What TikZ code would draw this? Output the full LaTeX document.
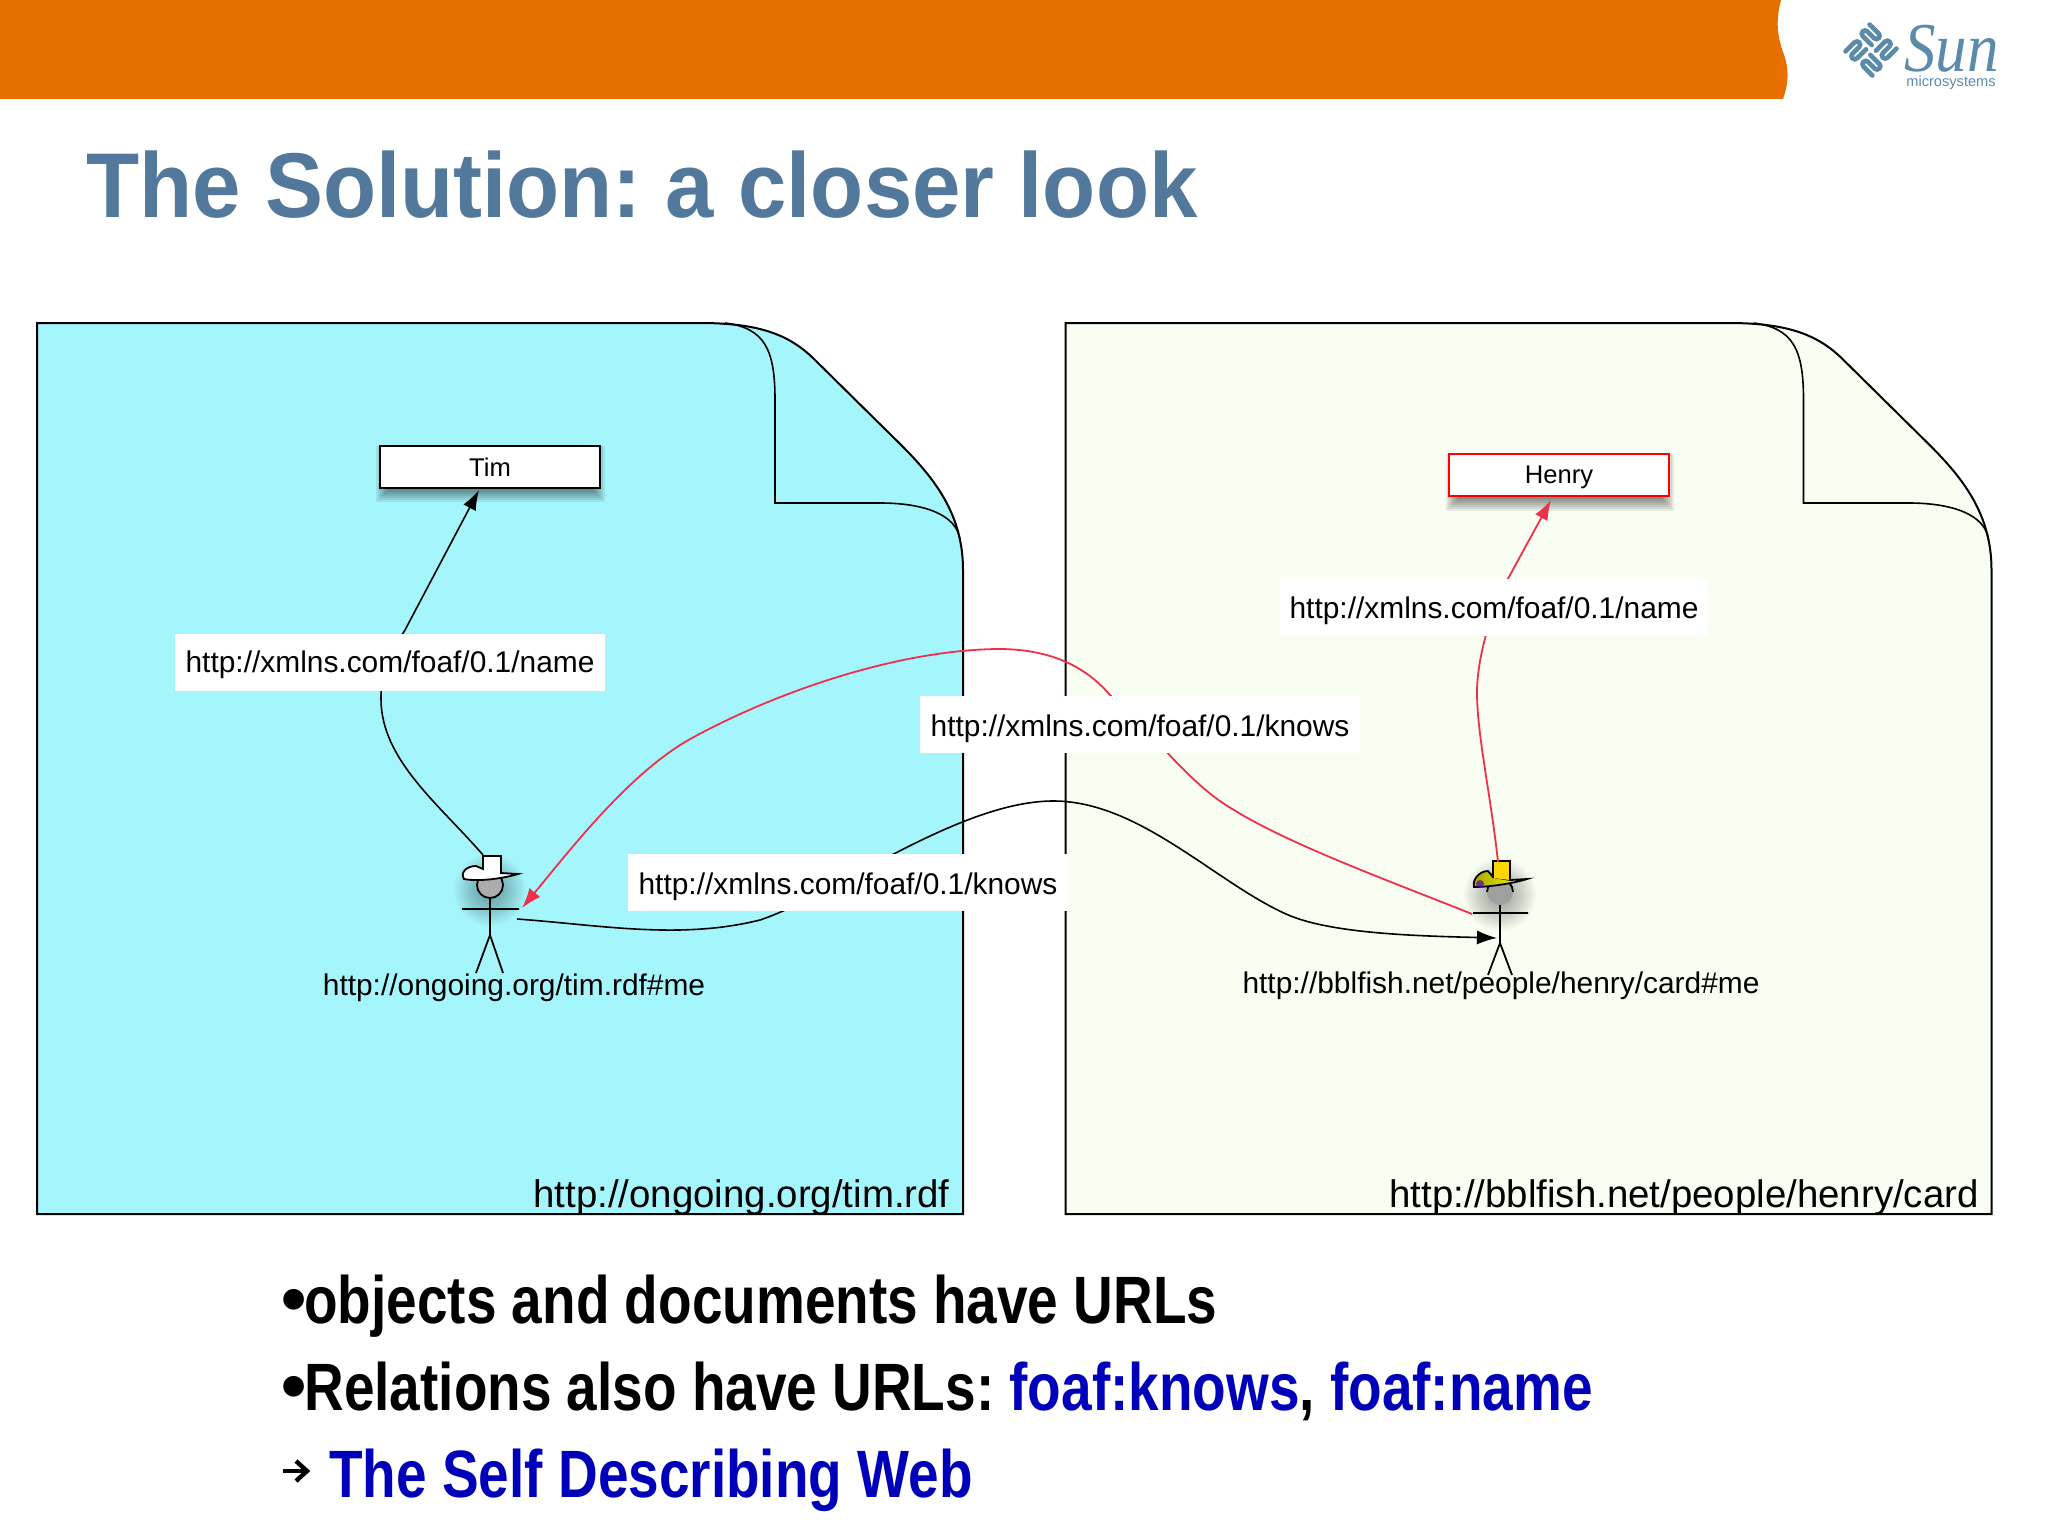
\documentclass[tikz,border=0pt]{standalone}
\usepackage{fontspec}
\setmainfont{Liberation Sans}
\newfontfamily\narrowf[FakeStretch=0.82]{Liberation Sans}
\newfontfamily\titlef[FakeStretch=0.945]{Liberation Sans}
\newfontfamily\serifi[FakeStretch=0.9]{Liberation Serif}
\usetikzlibrary{arrows.meta}
\definecolor{band}{HTML}{E76F00}
\definecolor{titleblue}{HTML}{52799B}
\definecolor{sunblue}{HTML}{5B8BAB}
\definecolor{cyandoc}{HTML}{A5F6FC}
\definecolor{greendoc}{HTML}{F8FEF2}
\definecolor{linkred}{HTML}{F0304A}
\definecolor{bulletblue}{HTML}{0000BB}
\tikzset{
 x=0.5pt,y=-0.5pt,
 doc/.style={draw=black,line width=1pt},
 foldline/.style={draw=black,line width=0.8pt},
 res/.style={draw=black,fill=white,line width=1pt,minimum width=110pt,minimum height=21pt,inner sep=0pt,font=\fontsize{12.8}{14}\selectfont},
 predlabel/.style={fill=white,inner sep=0pt,minimum height=28.5pt,font=\fontsize{14.95}{16}\selectfont},
 idlabel/.style={inner sep=0pt,font=\fontsize{14.95}{16}\selectfont},
 doclabel/.style={inner sep=0pt,anchor=base east,font=\fontsize{19.2}{21}\selectfont},
 blackarc/.style={draw=black,line width=0.8pt,-{Latex[length=10pt,width=7pt]}},
 redarc/.style={draw=linkred,line width=0.9pt,-{Latex[length=10pt,width=7pt]}},
 stick/.style={draw=black,line width=0.9pt},
 bulletline/.style={inner sep=0pt,anchor=base west,font=\narrowf\bfseries\fontsize{33.5}{40}\selectfont},
}
\newcommand{\docshape}[2]{%
 \begin{scope}[shift={(#1,0)}]
 \path[doc,fill=#2] (37,323) -- (700,323) .. controls (760,323) and (790,335) .. (815,360) -- (893,437) .. controls (930,473) and (963,510) .. (963,570) -- (963,1214) -- (37,1214) -- cycle;
 \draw[foldline] (725,323) .. controls (765,328) and (775,350) .. (775,400) -- (775,503) -- (880,503) .. controls (925,503) and (957,515) .. (960,540);
 \end{scope}}
\newcommand{\halo}[2]{%
 \foreach \r in {12,14,...,36}{\fill[black,opacity=.022] (#1,#2) circle[radius=\r];}}
\newcommand{\boxshadow}[4]{%
 \foreach \g in {0,2,...,12}{\fill[black,opacity=.08] (#1-4+\g,#2) rectangle (#3+5-\g,#4+15-\g);}}
\newcommand{\bul}{\makebox[11.5pt][l]{\normalfont\bfseries\fontsize{36}{40}\selectfont •}}
\newcommand{\dropby}[2]{\raisebox{-#1}[\height][\depth]{#2}}
\begin{document}
\frenchspacing
\begin{tikzpicture}
\useasboundingbox (0,0) rectangle (2048,1536);
\fill[white] (0,0) rectangle (2048,1536);
% band
\fill[band] (0,0) -- (1781,0) .. controls (1775,22) and (1778,38) .. (1783,52) .. controls (1790,70) and (1788,85) .. (1783,99) -- (0,99) -- cycle;
% logo
\begin{scope}[shift={(1871,50)},rotate=45]
 \foreach \a in {0,90,180,270}{
 \begin{scope}[rotate=\a]
   \draw[sunblue,line width=2.3pt,line cap=round,rounded corners=1.6pt] (4,-3) -- (4,-19) -- (10.5,-19) -- (10.5,-3) -- (17,-3) -- (17,-19);
 \end{scope}}
\end{scope}
\node[inner sep=0pt,anchor=base west,text depth=0pt,text=sunblue,font=\serifi\itshape\fontsize{35}{35}\selectfont] (sunword) at (1904,72) {Sun};
\node[inner sep=0pt,anchor=base west,text height=5pt,text=sunblue,font=\fontsize{7.3}{8}\selectfont] (micro) at (1906,87) {microsystems};
% title
\node[inner sep=0pt,anchor=base west,text=titleblue,font=\titlef\bfseries\fontsize{46}{50}\selectfont] (title) at (86,217) {The Solution: a closer look};
% documents
\docshape{0}{cyandoc}
\docshape{1028.5}{greendoc}
\node[doclabel] (urlA) at (950,1207) {http://ongoing.org/tim.rdf};
\node[doclabel] (urlB) at (1979,1207) {http://bblfish.net/people/henry/card};
% resources
\boxshadow{380}{446}{600}{487}
\boxshadow{1450}{454}{1669}{496}
\node[res] (tim) at (490,467) {Tim};
\node[res,draw=red] (henry) at (1559,475) {\dropby{1.2pt}{Henry}};
% persons
\halo{490}{890}
\halo{1500}{895}
\begin{scope}[shift={(490,909)}]
 \fill[gray!65] (0,-24) circle[radius=13];
 \draw[stick] (0,-24) circle[radius=13];
 \draw[stick] (0,-11) -- (0,26) (-28,0) -- (29,0) (0,26) -- (-14,64) (0,26) -- (13,64);
 \path[stick,fill=white] (-7,-53) -- (11,-53) -- (11,-36) -- (28,-35) .. controls (15,-31) and (-10,-27) .. (-26,-30) .. controls (-30,-36) and (-24,-43) .. (-14,-43) -- (-7,-40) -- cycle;
\end{scope}
\begin{scope}[shift={(1500,913)}]
 \fill[gray!75] (0,-21) circle[radius=13];
 \draw[stick] (-13,-21) arc[start angle=180,end angle=360,radius=13];
 \draw[stick] (0,-8) -- (0,30) (-27,0) -- (28,0) (0,30) -- (-12,62) (0,30) -- (12,62);
 \path[stick,left color=olive!70!yellow,right color=yellow] (-7,-36) -- (10,-33) -- (27,-34) .. controls (15,-30) and (-10,-26) .. (-26,-26) .. controls (-28,-34) and (-20,-42) .. (-12,-42) -- cycle;
 \fill[violet!60!blue,opacity=.7] (-20,-29) circle[radius=4];
 \path[stick,fill=yellow!75!orange] (-7,-35) -- (-7,-52) -- (10,-52) -- (10,-33);
\end{scope}
\coordinate (timOut) at (517,919);
\coordinate (timIn) at (522,908);
\coordinate (timUp) at (483,855);
\coordinate (timBoxIn) at (479,490);
\coordinate (henOut) at (1472,914);
\coordinate (henIn) at (1497,938);
\coordinate (henUp) at (1498,862);
\coordinate (henBoxIn) at (1551,500);
% connectors
\draw[blackarc] (timUp) .. controls (440,805) and (381,760) .. (381,699) .. controls (381,660) and (390,655) .. (405,630) -- (timBoxIn);
\draw[redarc] (henUp) .. controls (1490,790) and (1477,735) .. (1477,692) .. controls (1477,660) and (1490,610) .. (1510,575) -- (henBoxIn);
\draw[redarc] (henOut) .. controls (1400,885) and (1290,845) .. (1234,810) .. controls (1190,785) and (1160,740) .. (1110,695) .. controls (1080,660) and (1040,649) .. (998,649) .. controls (900,650) and (780,690) .. (692,738) .. controls (630,772) and (570,850) .. (timIn);
\draw[blackarc] (timOut) .. controls (600,925) and (680,940) .. (760,920) .. controls (835,895) and (960,800) .. (1055,801) .. controls (1140,802) and (1215,882) .. (1286,914) .. controls (1330,934) and (1420,936) .. (henIn);
% labels
\node[predlabel,minimum width=215pt] (nameA) at (390,662) {\dropby{1.6pt}{http://xmlns.com/foaf/0.1/name}};
\node[predlabel,minimum width=214pt] (nameB) at (1494,607) {\dropby{1.8pt}{http://xmlns.com/foaf/0.1/name}};
\node[predlabel,minimum width=220pt] (knowsR) at (1140,724) {\dropby{2.6pt}{http://xmlns.com/foaf/0.1/knows}};
\node[predlabel,minimum width=220pt] (knowsB) at (848,882) {\dropby{2.6pt}{http://xmlns.com/foaf/0.1/knows}};
\node[idlabel] (idA) at (514,988) {http://ongoing.org/tim.rdf\#me};
\node[idlabel] (idB) at (1501,986) {http://bblfish.net/people/henry/card\#me};
% bullets
\node[bulletline] (b1) at (281,1323) {\bul objects and documents have URLs};
\node[bulletline] (b2) at (281,1410) {\bul Relations also have URLs: \textcolor{bulletblue}{foaf:knows}, \textcolor{bulletblue}{foaf:name}};
\draw[black,line width=2pt] (283,1471) -- (306,1471);
\draw[black,line width=2.2pt,line join=miter] (296,1461) -- (307,1471) -- (296,1481);
\node[bulletline,text=bulletblue] (b3) at (329,1497) {The Self Describing Web};
\end{tikzpicture}
\end{document}
